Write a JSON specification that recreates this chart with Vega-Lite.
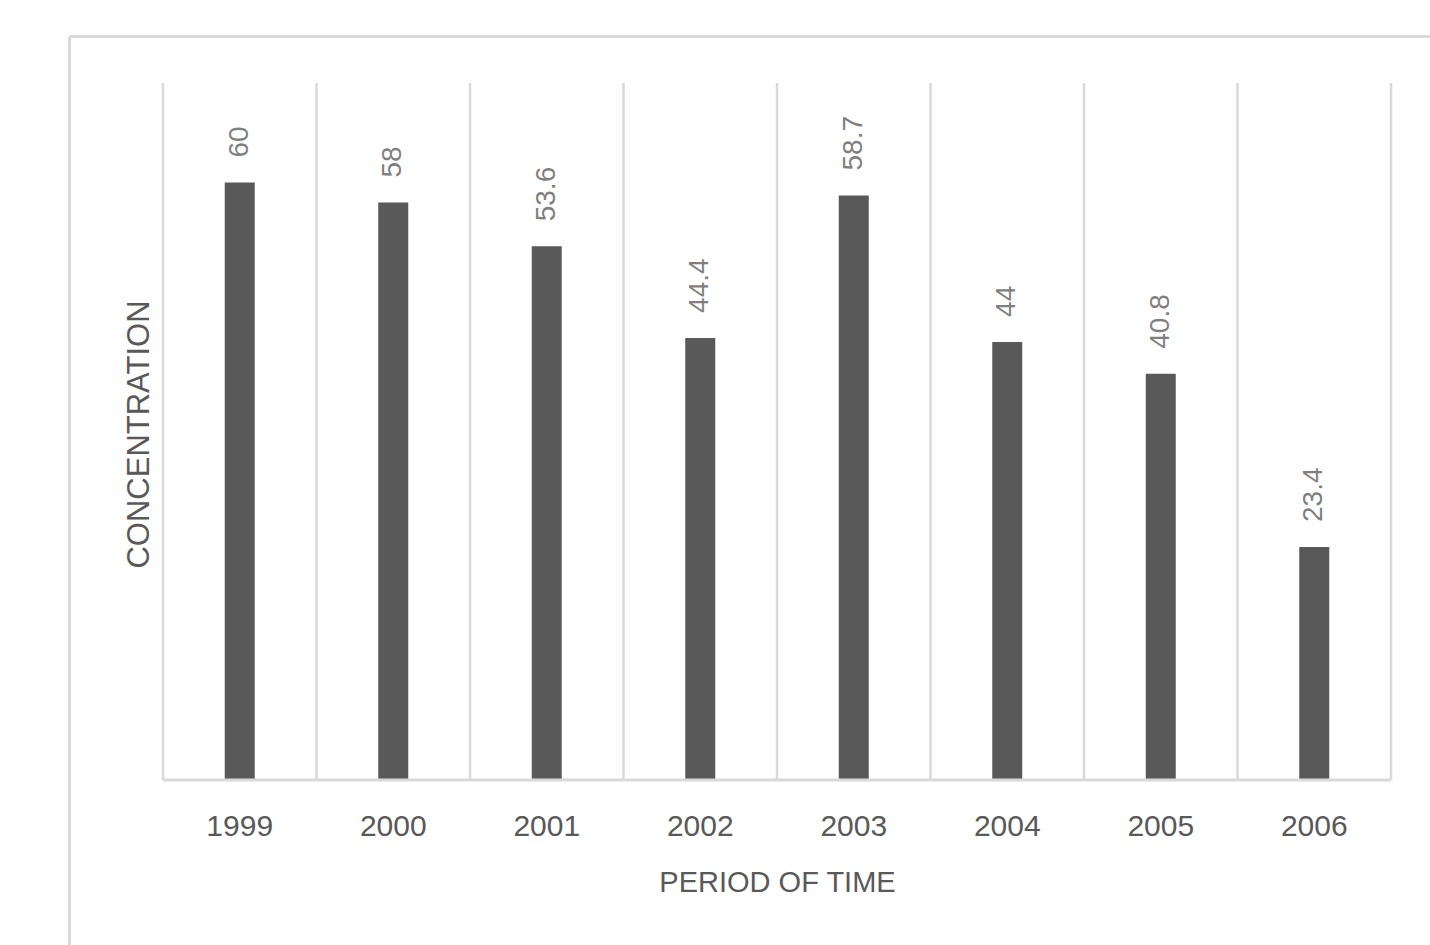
{
  "$schema": "https://vega.github.io/schema/vega-lite/v6.json",
  "width": 1361,
  "height": 909,
  "autosize": {"type": "none"},
  "padding": {"left": 69, "top": 36, "right": 0, "bottom": 0},
  "background": "white",
  "config": {"view": {"stroke": null}},
  "data": {
    "values": [
      {"year": "1999", "value": 60},
      {"year": "2000", "value": 58},
      {"year": "2001", "value": 53.6},
      {"year": "2002", "value": 44.4},
      {"year": "2003", "value": 58.7},
      {"year": "2004", "value": 44},
      {"year": "2005", "value": 40.8},
      {"year": "2006", "value": 23.4}
    ]
  },
  "resolve": {"axis": {"x": "independent", "y": "independent"}},
  "layer": [
    {
      "mark": {"type": "rule", "color": "#d9d9d9", "strokeWidth": 2.5},
      "encoding": {
        "x": {"field": "year", "type": "ordinal", "bandPosition": 0,
              "scale": {"type": "band", "paddingInner": 0, "paddingOuter": 0.4332, "align": 0.7068},
              "axis": {"orient": "top", "domain": true, "domainColor": "#d9d9d9", "domainWidth": 3, "labels": false, "ticks": false, "grid": false, "title": null}},
        "y": {"datum": 0, "type": "quantitative",
              "scale": {"domain": [-16.57, 74.72], "nice": false, "zero": false},
              "axis": {"orient": "left", "domain": true, "domainColor": "#d9d9d9", "domainWidth": 3, "labels": false, "ticks": false, "grid": false,
                       "title": "CONCENTRATION", "titleFont": "Liberation Sans", "titleFontSize": 31, "titleFontWeight": "normal", "titleColor": "#595959",
                       "titleX": 70, "titleY": 398, "titleAngle": 270, "titleAlign": "center", "titleBaseline": "middle"}},
        "y2": {"datum": 70}
      }
    },
    {
      "transform": [{"filter": "datum.year == '2006'"}],
      "mark": {"type": "rule", "color": "#d9d9d9", "strokeWidth": 2.5},
      "encoding": {
        "x": {"field": "year", "type": "ordinal", "bandPosition": 1,
              "scale": {"type": "band", "paddingInner": 0, "paddingOuter": 0.4332, "align": 0.7068}, "axis": null},
        "y": {"datum": 0, "type": "quantitative", "axis": null},
        "y2": {"datum": 70}
      }
    },
    {
      "mark": {"type": "bar", "color": "#595959", "size": 30},
      "encoding": {
        "x": {"field": "year", "type": "ordinal",
              "scale": {"type": "band", "paddingInner": 0, "paddingOuter": 0.4332, "align": 0.7068},
              "axis": {"orient": "bottom", "offset": -165, "domain": false, "ticks": false, "grid": false, "labelAngle": 0,
                       "labelFont": "Liberation Sans", "labelFontSize": 30, "labelColor": "#595959", "labelPadding": 31,
                       "title": "PERIOD OF TIME", "titleFont": "Liberation Sans", "titleFontSize": 29, "titleFontWeight": "normal",
                       "titleColor": "#595959", "titlePadding": 27, "titleX": 708}},
        "y": {"field": "value", "type": "quantitative", "axis": null},
        "y2": {"datum": 0}
      }
    },
    {
      "mark": {"type": "bar", "width": {"band": 1}, "fill": null, "fillOpacity": 0, "stroke": "#d9d9d9", "strokeWidth": 3},
      "encoding": {
        "x": {"field": "year", "type": "ordinal",
              "scale": {"type": "band", "paddingInner": 0, "paddingOuter": 0.4332, "align": 0.7068}, "axis": null},
        "y": {"datum": 0, "type": "quantitative", "axis": null},
        "y2": {"datum": 0}
      }
    },
    {
      "mark": {"type": "text", "angle": 270, "align": "left", "baseline": "middle", "dx": 25,
               "font": "Liberation Sans", "fontSize": 28, "color": "#7f7f7f"},
      "encoding": {
        "x": {"field": "year", "type": "ordinal",
              "scale": {"type": "band", "paddingInner": 0, "paddingOuter": 0.4332, "align": 0.7068}, "axis": null},
        "y": {"field": "value", "type": "quantitative", "axis": null},
        "text": {"field": "value", "type": "quantitative"}
      }
    }
  ]
}
